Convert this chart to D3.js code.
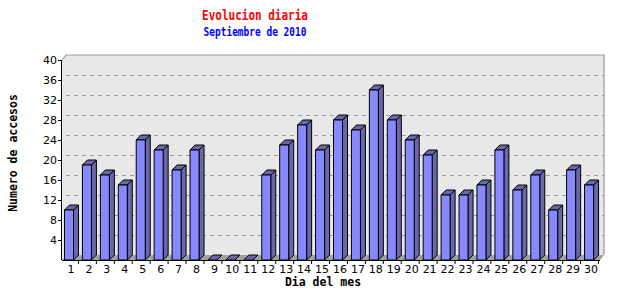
<!DOCTYPE html>
<html>
<head>
<meta charset="utf-8">
<script src="https://cdn.jsdelivr.net/npm/d3@7"></script>
<style>
    body { margin: 0; background: #fff; }
    svg { display: block; }
    .tick-label { font-family: "DejaVu Sans", Verdana, sans-serif; font-size: 11px; fill: #000; }
    .mono { font-family: "DejaVu Sans Mono", monospace; font-weight: bold; }
</style>
</head>
<body>
<div class="panel"></div>
<script>

// Data ////////////////////////////////////

const days = d3.range(1, 31);
const visits = [10, 19, 17, 15, 24, 22, 18, 22, 0, 0, 0, 17, 23, 27, 22,
                28, 26, 34, 28, 24, 21, 13, 13, 15, 22, 14, 17, 10, 18, 15];
const yTicks = [4, 8, 12, 16, 20, 24, 28, 32, 36, 40];

const title = "Evolucion diaria";
const subtitle = "Septiembre de 2010";
const xTitle = "Dia del mes";
const yTitle = "Numero de accesos";

drawChart();

function drawChart() {

    const width = 640, height = 300;
    const dx = 4, dy = 5;          // depth of the back wall
    const bdx = 5, bdy = 5;        // depth of the bars

    const svg = d3.select(".panel").append("svg")
        .attr("width", width)
        .attr("height", height);

    const x = d3.scaleBand()
        .domain(days)
        .range([62, 600]);

    const y = d3.scaleLinear()
        .domain([0, 40])
        .range([260, 60]);

    const [x0, x1] = x.range();
    const y0 = y(0), yTop = y(40);

    // Walls

    svg.append("path")
        .attr("d", `M ${x0} ${yTop} L ${x0 + dx} ${yTop - dy} L ${x0 + dx} ${y0 - dy} L ${x0} ${y0} Z`)
        .attr("fill", "#e8e8e8");

    svg.append("rect")
        .attr("x", x0 + dx)
        .attr("y", yTop - dy)
        .attr("width", x1 - x0)
        .attr("height", y0 - yTop)
        .attr("fill", "#e8e8e8");

    svg.append("path")
        .attr("d", `M ${x0} ${yTop} L ${x0 + dx} ${yTop - dy} L ${x1 + dx} ${yTop - dy} L ${x1 + dx} ${y0 - dy}`)
        .attr("fill", "none")
        .attr("stroke", "#999")
        .attr("stroke-width", 1.2);

    // Floor

    svg.append("path")
        .attr("d", `M ${x0} ${y0} L ${x0 + dx} ${y0 - dy} L ${x1 + dx} ${y0 - dy} L ${x1} ${y0} Z`)
        .attr("fill", "#a0a0a0");

    // Grid lines

    svg.append("g")
        .selectAll("line")
        .data(yTicks.slice(0, -1))
        .join("line")
        .attr("x1", x0 + dx)
        .attr("x2", x1 + dx)
        .attr("y1", d => y(d) - dy + 0.5)
        .attr("y2", d => y(d) - dy + 0.5)
        .attr("stroke", "#999")
        .attr("stroke-dasharray", "4,4");

    // Bars

    const bw = 9;
    const bars = svg.append("g")
        .selectAll("g")
        .data(days.map((d, i) => ({ day: d, value: visits[i] })))
        .join("g")
        .attr("stroke", "#000")
        .attr("stroke-width", 1)
        .attr("stroke-linejoin", "round");

    bars.append("path")
        .attr("fill", "#6868a8")
        .attr("d", d => {
            const bx = x(d.day) + 2.5, by = y(d.value);
            return `M ${bx + bw} ${by} L ${bx + bw + bdx} ${by - bdy} L ${bx + bw + bdx} ${y0 - bdy} L ${bx + bw} ${y0} Z`;
        });

    bars.append("path")
        .attr("fill", "#6868a8")
        .attr("d", d => {
            const bx = x(d.day) + 2.5, by = y(d.value);
            return `M ${bx} ${by} L ${bx + bdx} ${by - bdy} L ${bx + bw + bdx} ${by - bdy} L ${bx + bw} ${by} Z`;
        });

    bars.filter(d => d.value > 0)
        .append("rect")
        .attr("fill", "#8888ff")
        .attr("x", d => x(d.day) + 2.5)
        .attr("y", d => y(d.value))
        .attr("width", bw)
        .attr("height", d => y0 - y(d.value));

    // Axes

    svg.append("line")
        .attr("x1", x0 - 0.5).attr("x2", x0 - 0.5)
        .attr("y1", yTop).attr("y2", y0)
        .attr("stroke", "#000");

    svg.append("line")
        .attr("x1", x0).attr("x2", x1)
        .attr("y1", y0 + 0.5).attr("y2", y0 + 0.5)
        .attr("stroke", "#000");

    const yAxis = svg.append("g");

    yAxis.selectAll("line")
        .data(yTicks)
        .join("line")
        .attr("x1", x0 - 4).attr("x2", x0)
        .attr("y1", d => y(d) + 0.5).attr("y2", d => y(d) + 0.5)
        .attr("stroke", "#000");

    yAxis.selectAll("text")
        .data(yTicks)
        .join("text")
        .attr("class", "tick-label")
        .attr("x", x0 - 5)
        .attr("y", d => y(d))
        .attr("dy", "0.35em")
        .attr("text-anchor", "end")
        .text(d => d);

    const xAxis = svg.append("g");

    xAxis.selectAll("line")
        .data(days)
        .join("line")
        .attr("x1", d => x(d) + x.step() - 1.5)
        .attr("x2", d => x(d) + x.step() - 1.5)
        .attr("y1", y0).attr("y2", y0 + 4)
        .attr("stroke", "#000");

    xAxis.selectAll("text")
        .data(days)
        .join("text")
        .attr("class", "tick-label")
        .attr("x", d => x(d) + x.step() / 2)
        .attr("y", y0 + 13)
        .attr("text-anchor", "middle")
        .text(d => d);

    // Titles

    svg.append("text")
        .attr("class", "mono")
        .attr("transform", "translate(255, 20) scale(1, 1.35)")
        .attr("text-anchor", "middle")
        .attr("font-size", 11)
        .attr("fill", "#ff0000")
        .text(title);

    svg.append("text")
        .attr("class", "mono")
        .attr("transform", "translate(255, 36) scale(1, 1.2)")
        .attr("text-anchor", "middle")
        .attr("font-size", 9.5)
        .attr("fill", "#0000ff")
        .text(subtitle);

    svg.append("text")
        .attr("class", "mono")
        .attr("x", 323)
        .attr("y", 286)
        .attr("text-anchor", "middle")
        .attr("font-size", 11.5)
        .text(xTitle);

    svg.append("text")
        .attr("class", "mono")
        .attr("transform", "translate(17, 153) rotate(-90)")
        .attr("text-anchor", "middle")
        .attr("font-size", 11.5)
        .text(yTitle);
}
</script>
</body>
</html>
